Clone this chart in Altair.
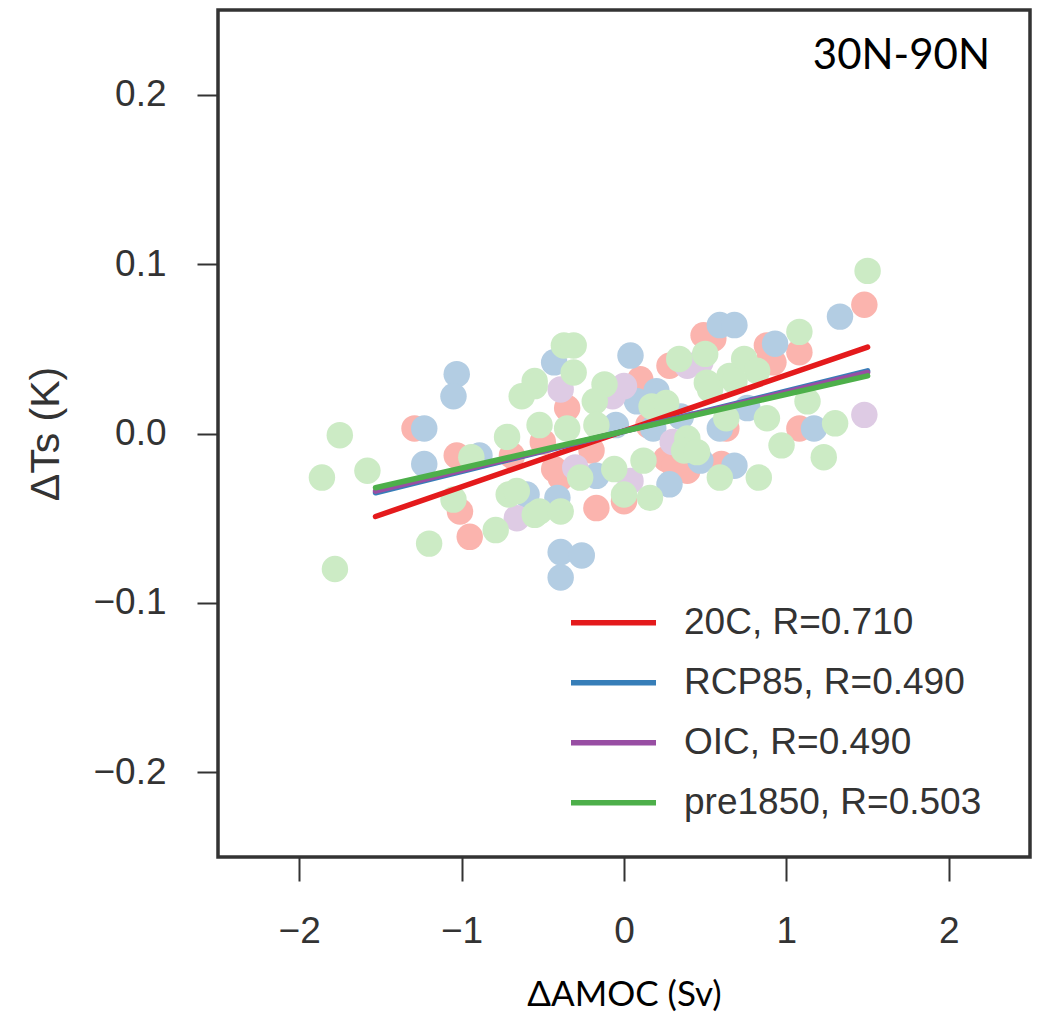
import altair as alt
import pandas as pd

series_names = ["20C", "RCP85", "OIC", "pre1850"]
legend_labels = ["20C, R=0.710", "RCP85, R=0.490", "OIC, R=0.490", "pre1850, R=0.503"]
point_colors = ["#fbb4ae", "#b3cde3", "#decbe4", "#ccebc5"]
line_colors = ["#e41a1c", "#377eb8", "#984ea3", "#4daf4a"]

x_20c = [-1.29, -1.03, -1.01, -0.95, -0.69, -0.35, 0.10, 0.28, 0.55, -0.17, 0.00, -0.39,
         0.34, 0.26, 1.48, 0.49, 0.90, 1.08, 0.92, 1.08, 0.88, 0.39, 0.63, -0.43, -0.50,
         0.15, -0.20, 0.60, 0.31]
y_20c = [0.003, -0.013, -0.046, -0.061, -0.013, 0.015, 0.032, 0.040, 0.056, -0.044, -0.040, -0.026,
         -0.021, -0.015, 0.076, 0.058, 0.046, 0.048, 0.042, 0.003, 0.052, -0.022, 0.003, -0.021, -0.005,
         0.005, -0.010, -0.018, -0.019]

x_rcp = [-1.03, -1.05, -1.23, -1.23, -0.89, -0.39, -0.26, -0.39, 0.04, -0.43, 0.59, 0.68,
         0.08, 0.20, 0.47, 0.28, -0.17, 0.18, -0.41, 0.93, 1.33, 1.17, 0.68, 0.59, 0.76,
         -0.60, -0.05, 0.35]
y_rcp = [0.035, 0.022, 0.003, -0.018, -0.013, -0.070, -0.072, -0.085, 0.046, 0.042, 0.064, 0.064,
         0.019, 0.025, -0.016, -0.030, -0.025, 0.003, -0.038, 0.053, 0.069, 0.003, -0.019, 0.003, 0.015,
         -0.036, 0.005, 0.010]

x_oic = [1.48, -0.39, 0.39, -0.07, 0.04, -0.66, 0.00, 0.47, 0.30, -0.30]
y_oic = [0.011, 0.026, 0.040, 0.022, -0.028, -0.050, 0.028, 0.042, -0.005, -0.020]

x_pre = [-1.86, -1.75, -1.58, -1.78, -1.20, -1.05, -0.79, -0.72, -0.63, -0.55, -0.52, -0.71,
         -0.55, -0.94, -0.66, -0.37, -0.31, -0.31, -0.12, -0.18, -0.35, -0.17, 0.17, 0.26,
         0.34, 0.50, 0.39, 0.37, -0.27, -0.06, 0.12, 0.00, 0.16, -0.52, -0.39, 0.59, 0.53,
         1.50, 1.08, 0.74, 0.65, 1.13, 0.88, 0.63, 1.30, 0.97, 1.23, 0.83, 0.45, 0.82, 0.51,
         0.68, -0.55]
y_pre = [-0.026, -0.001, -0.022, -0.080, -0.065, -0.039, -0.057, -0.002, 0.022, 0.031, 0.005, -0.036,
         -0.048, -0.014, -0.034, 0.052, 0.052, 0.036, 0.029, 0.019, 0.003, 0.005, 0.016, 0.018,
         0.044, 0.047, -0.003, -0.010, -0.026, -0.021, -0.016, -0.036, -0.038, -0.046, -0.046, -0.026, 0.026,
         0.096, 0.060, 0.044, 0.034, 0.019, 0.009, 0.009, 0.006, -0.007, -0.014, -0.026, -0.011, 0.037, 0.030,
         0.031, 0.028]

# regression line end points
line_x = {"20C": [-1.53, 1.50], "RCP85": [-1.53, 1.50], "OIC": [-1.53, 1.50], "pre1850": [-1.53, 1.50]}
line_y = {"20C": [-0.049, 0.051], "RCP85": [-0.035, 0.037], "OIC": [-0.034, 0.036], "pre1850": [-0.032, 0.034]}

x_ticks = [-2, -1, 0, 1, 2]
y_ticks = [-0.2, -0.1, 0.0, 0.1, 0.2]

pts_rows = []
for name, xs, ys in zip(series_names, [x_20c, x_rcp, x_oic, x_pre], [y_20c, y_rcp, y_oic, y_pre]):
    for xv, yv in zip(xs, ys):
        pts_rows.append({"series": name, "x": xv, "y": yv})
pts = pd.DataFrame(pts_rows)

line_rows = []
for i, (name, lab) in enumerate(zip(series_names, legend_labels)):
    for xv, yv in zip(line_x[name], line_y[name]):
        line_rows.append({"series": name, "label": lab, "x": xv, "y": yv, "o": i})
lines = pd.DataFrame(line_rows)

xscale = alt.Scale(domain=[-2.5, 2.5], nice=False, zero=False)
yscale = alt.Scale(domain=[-0.25, 0.25], nice=False, zero=False)

xaxis = alt.Axis(title="ΔAMOC (Sv)", values=x_ticks, format="d", grid=False, domain=False,
                 tickSize=24, tickWidth=2, tickColor="#333", labelPadding=32,
                 labelFont="Liberation Sans", labelFontSize=37, labelColor="#333",
                 titleFont="Lato", titleFontSize=35, titleFontWeight="normal", titleColor="#000",
                 titleBaseline="alphabetic", titleY=148)
yaxis = alt.Axis(title="ΔTs (K)", values=y_ticks, format=".1f", grid=False, domain=False,
                 tickSize=21, tickWidth=2, tickColor="#333", labelPadding=31,
                 labelFont="Liberation Sans", labelFontSize=37, labelColor="#333",
                 titleFont="Liberation Sans", titleFontSize=41, titleFontWeight="normal", titleColor="#333",
                 titleBaseline="alphabetic", titleX=-160, titleAngle=270)

points = alt.Chart(pts).mark_circle(size=700, opacity=1).encode(
    x=alt.X("x:Q", scale=xscale, axis=xaxis),
    y=alt.Y("y:Q", scale=yscale, axis=yaxis),
    color=alt.Color("series:N", scale=alt.Scale(domain=series_names, range=point_colors), legend=None),
)

line_layer = alt.Chart(lines).mark_line(strokeWidth=5.5, strokeCap="round").encode(
    x=alt.X("x:Q", scale=xscale),
    y=alt.Y("y:Q", scale=yscale),
    detail="series:N",
    order="o:Q",
    color=alt.Color("label:N", scale=alt.Scale(domain=legend_labels, range=line_colors),
                    legend=alt.Legend(orient="none", legendX=350, legendY=583, title=None,
                                      symbolType="stroke", symbolSize=7225, symbolStrokeWidth=5.5,
                                      labelFont="Liberation Sans", labelFontSize=37, labelColor="#333",
                                      labelOffset=25, labelLimit=500, rowPadding=0, clipHeight=59.5,
                                      padding=0)),
)

region = alt.Chart(pd.DataFrame({"t": ["30N-90N"]})).mark_text(
    font="Lato", fontSize=42, color="#000", align="right", baseline="alphabetic"
).encode(x=alt.value(772), y=alt.value(59), text="t:N")

chart = alt.layer(points, line_layer, region).resolve_scale(color="independent").properties(
    width=812, height=847,
    autosize=alt.AutoSizeParams(type="none"),
    padding={"left": 218, "top": 10, "right": 13, "bottom": 158},
    background="white",
).configure_view(stroke="#333", strokeWidth=3.5)

chart.save("out.html", embed_options={"renderer": "svg", "actions": False})
